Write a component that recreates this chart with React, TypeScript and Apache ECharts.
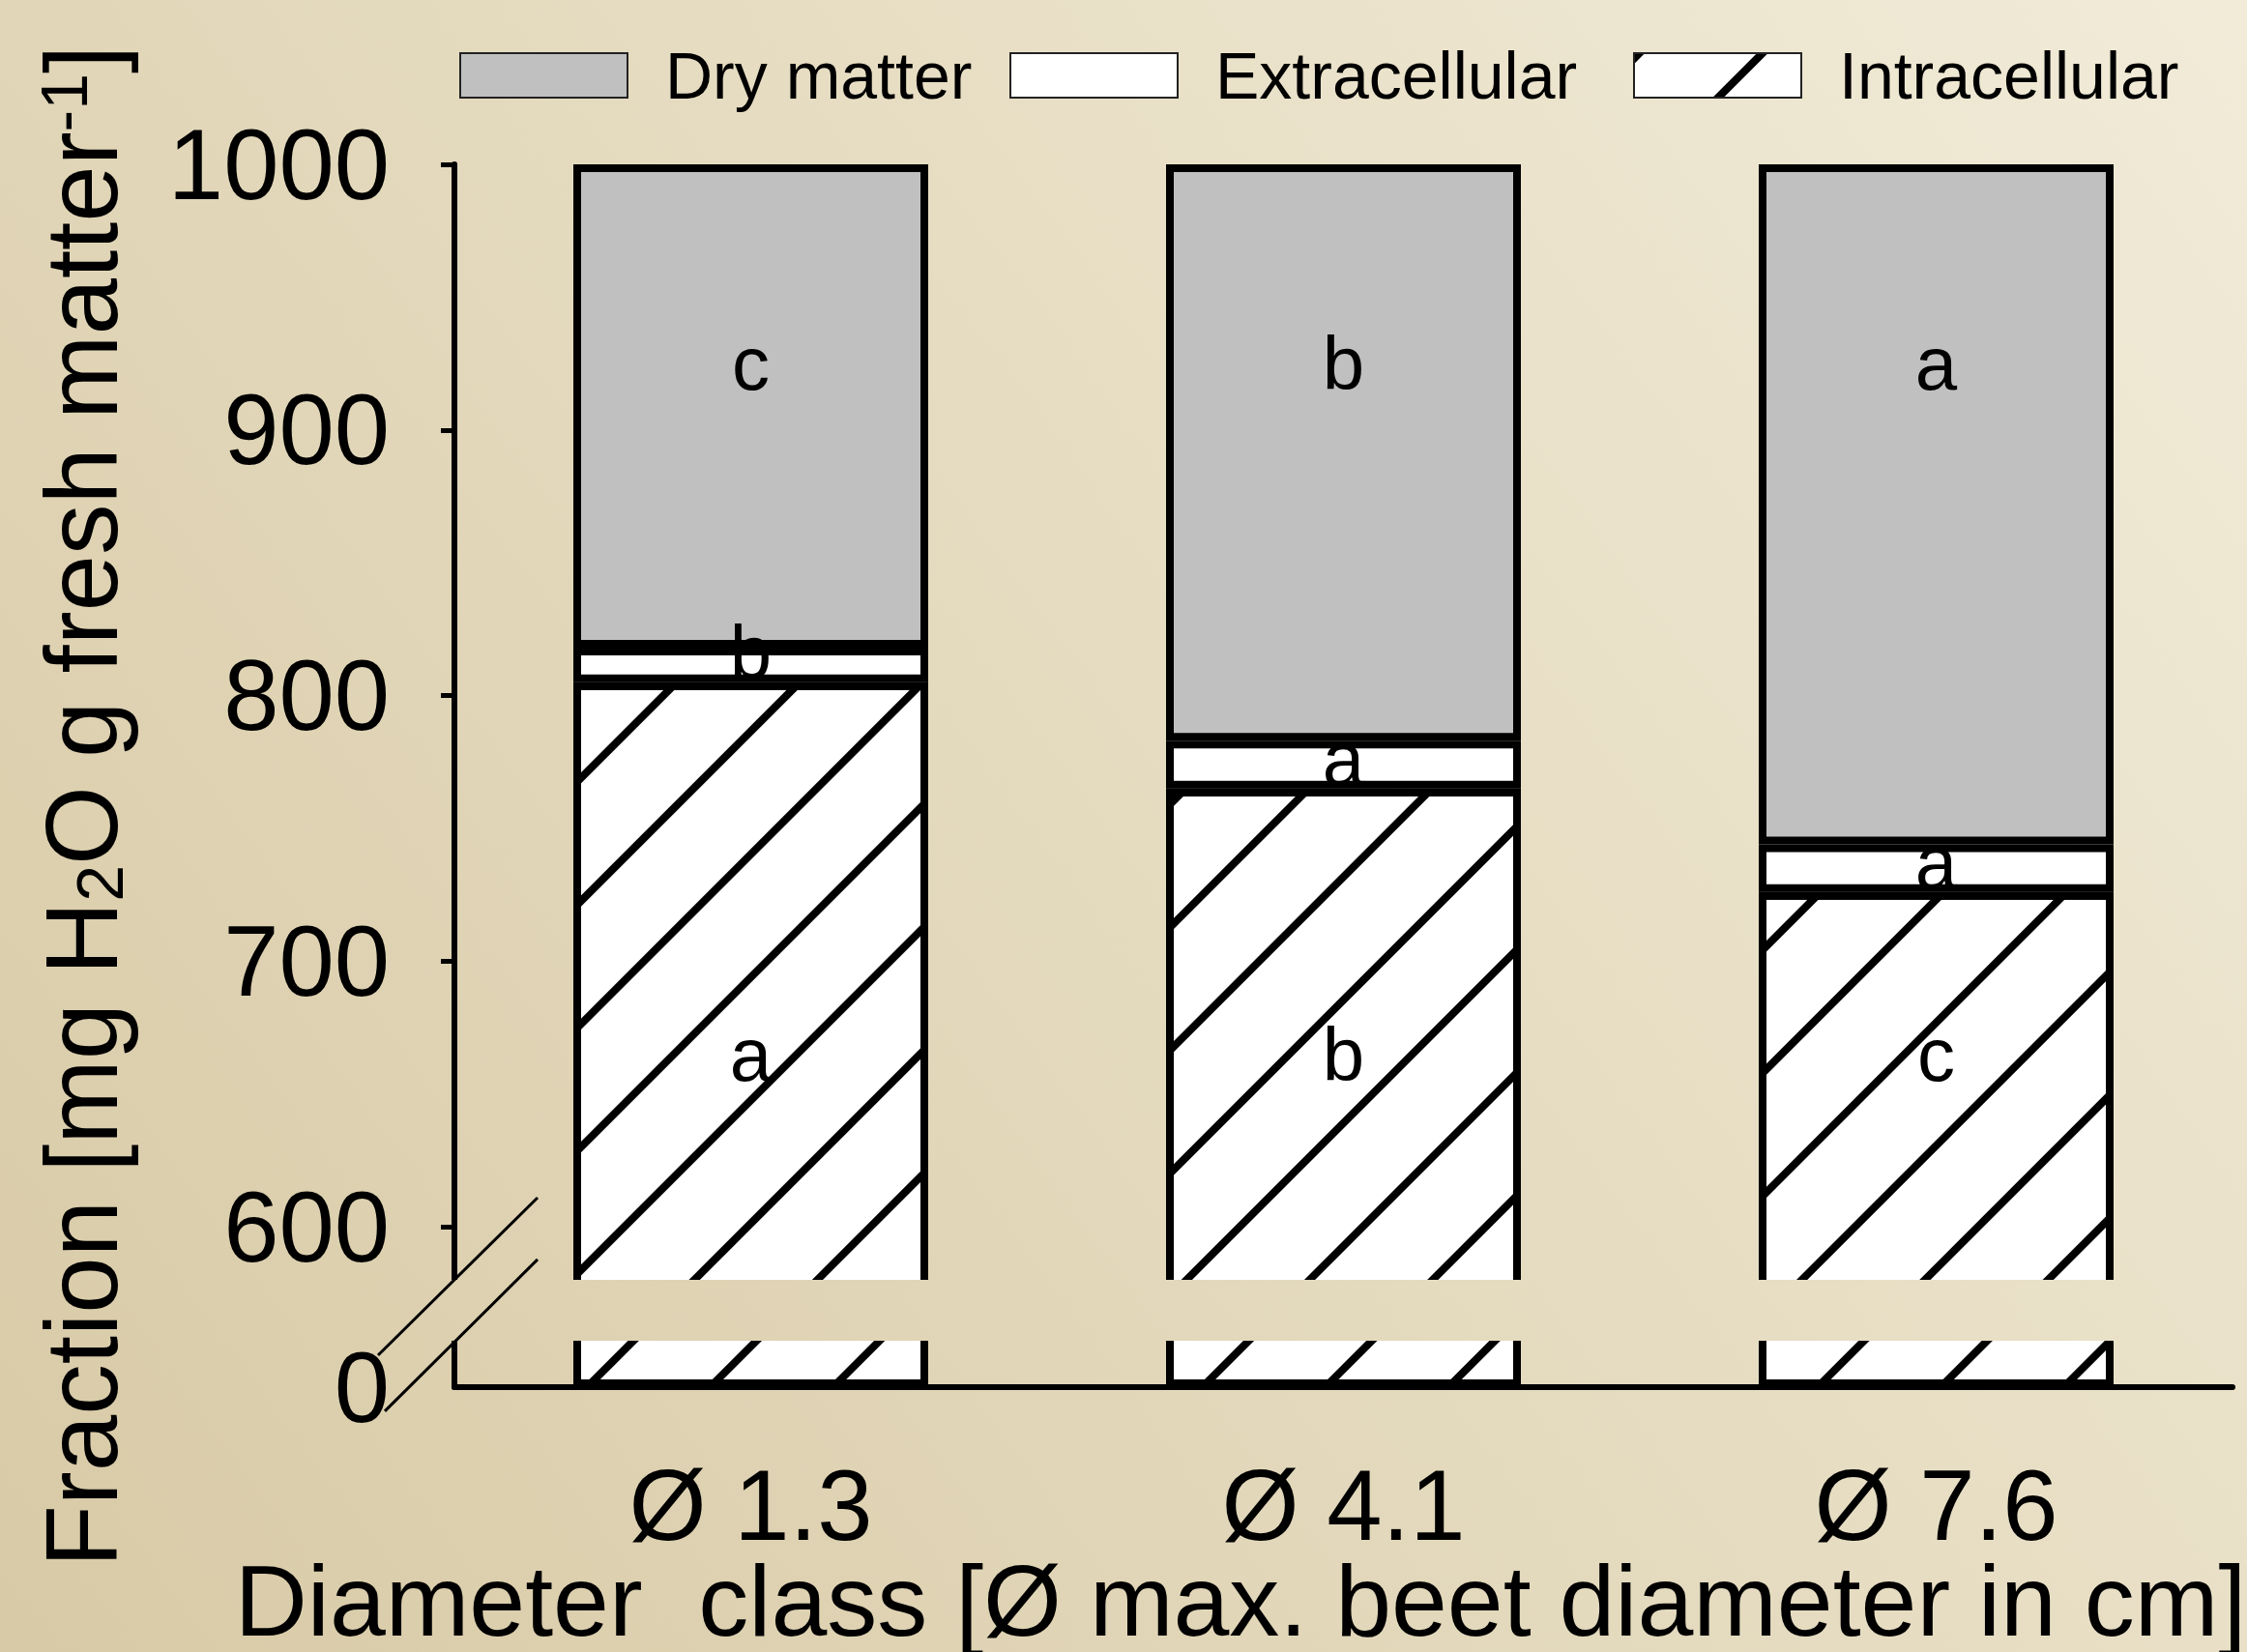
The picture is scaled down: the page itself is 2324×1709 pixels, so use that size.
import React, { useEffect, useRef } from 'react';
import * as echarts from 'echarts';

const CATEGORIES = ['Ø 1.3', 'Ø 4.1', 'Ø 7.6'];
const INTRACELLULAR = [805, 765, 726];
const EXTRACELLULAR = [13, 18, 18];
const DRY_MATTER = [182, 217, 256];
const INTRA_LETTERS = ['a', 'b', 'c'];
const EXTRA_LETTERS = ['b', 'a', 'a'];
const DRY_LETTERS = ['c', 'b', 'a'];
const Y_TICKS = [0, 600, 700, 800, 900, 1000];
const Y_MAX = 1000;

// axis break: real values 0..BREAK_FROM shown at the bottom, then a gap, then BREAK_TO..Y_MAX
const BREAK_FROM = 17.5;
const BREAK_TO = 580;
const GAP_DISPLAY = 22.9;
const OFFSET = BREAK_TO - BREAK_FROM - GAP_DISPLAY;

const toDisplay = (v: number) => (v <= BREAK_FROM ? v : v >= BREAK_TO ? v - OFFSET : BREAK_FROM);

const FONT = '"Liberation Sans", Arial, Helvetica, sans-serif';
const W = 2324;
const H = 1709;

export default function App() {
  const ref = useRef<HTMLDivElement>(null);

  useEffect(() => {
    if (!ref.current) return;
    const chart = echarts.init(ref.current, undefined, { renderer: 'svg', width: W, height: H });

    const bg = () =>
      new echarts.graphic.LinearGradient(
        0,
        H,
        W,
        0,
        [
          { offset: 0, color: '#d8caa6' },
          { offset: 1, color: '#f1ebd8' },
        ],
        true
      );

    const intraDisplay = INTRACELLULAR.map((v) => toDisplay(v));

    const option: any = {
      animation: false,
      textStyle: { fontFamily: FONT, color: '#000' },
      grid: { left: 470, right: 15, top: 170, bottom: 274, containLabel: false },
      legend: [
        { data: ['Dry matter'], left: 470 },
        { data: ['Extracellular'], left: 1039 },
        { data: ['Intracellular'], left: 1684 },
      ].map((l) => ({
        ...l,
        top: 39,
        orient: 'horizontal',
        icon: 'rect',
        itemWidth: 173,
        itemHeight: 46,
        selectedMode: false,
        itemStyle: { borderWidth: 2, borderColor: '#222' },
        textStyle: { fontSize: 68, color: '#000', fontFamily: FONT, padding: [0, 0, 0, 34] },
      })),
      xAxis: {
        type: 'category',
        data: CATEGORIES,
        axisLine: { lineStyle: { color: '#000', width: 6 } },
        axisTick: { alignWithLabel: true, length: 12, lineStyle: { color: '#000', width: 4 } },
        axisLabel: { fontSize: 103, lineHeight: 90, color: '#000', margin: 77, fontFamily: FONT },
        splitLine: { show: false },
      },
      yAxis: {
        type: 'value',
        min: 0,
        max: toDisplay(Y_MAX),
        axisLine: { show: true, lineStyle: { color: '#000', width: 6 } },
        axisTick: {
          show: true,
          length: 14,
          customValues: Y_TICKS.filter((v) => v > 0).map(toDisplay),
          lineStyle: { color: '#000', width: 5 },
        },
        axisLabel: {
          customValues: Y_TICKS.map(toDisplay),
          fontSize: 103,
          color: '#000',
          margin: 67,
          fontFamily: FONT,
          formatter: (val: number) =>
            String(Math.round(val <= BREAK_FROM ? val : val + OFFSET)),
        },
        splitLine: { show: false },
      },
      series: [
        {
          name: 'Intracellular',
          type: 'bar',
          stack: 'total',
          barWidth: 367,
          data: intraDisplay,
          itemStyle: {
            color: '#fff',
            borderColor: '#000',
            borderWidth: 8,
            decal: {
              symbol: 'rect',
              symbolSize: 1,
              color: '#000',
              dashArrayX: [1, 0],
              dashArrayY: [8, 82],
              rotation: -Math.PI / 4,
            },
          },
          label: {
            show: true,
            position: 'insideBottom',
            distance: 305,
            fontSize: 78,
            color: '#000',
            fontFamily: FONT,
            formatter: (p: any) => INTRA_LETTERS[p.dataIndex],
          },
        },
        {
          name: 'Extracellular',
          type: 'bar',
          stack: 'total',
          barWidth: 367,
          data: EXTRACELLULAR,
          itemStyle: { color: '#fff', borderColor: '#000', borderWidth: 8 },
          label: {
            show: true,
            position: 'insideBottom',
            distance: 0,
            offset: [0, 8],
            fontSize: 78,
            color: '#000',
            fontFamily: FONT,
            formatter: (p: any) => EXTRA_LETTERS[p.dataIndex],
          },
        },
        {
          name: 'Dry matter',
          type: 'bar',
          stack: 'total',
          barWidth: 367,
          data: DRY_MATTER,
          itemStyle: { color: '#c0c0c0', borderColor: '#000', borderWidth: 8 },
          label: {
            show: true,
            position: 'insideTop',
            distance: 167,
            fontSize: 78,
            color: '#000',
            fontFamily: FONT,
            formatter: (p: any) => DRY_LETTERS[p.dataIndex],
          },
        },
      ],
    };

    chart.setOption(option);

    const yHigh = chart.convertToPixel({ yAxisIndex: 0 }, BREAK_FROM + GAP_DISPLAY) as number;
    const yLow = chart.convertToPixel({ yAxisIndex: 0 }, BREAK_FROM) as number;
    const gridLeft = 470;

    chart.setOption({
      graphic: [
        {
          type: 'rect',
          silent: true,
          z: -10,
          shape: { x: 0, y: 0, width: W, height: H },
          style: { fill: bg() },
        },
        {
          type: 'rect',
          silent: true,
          z: 50,
          shape: { x: gridLeft - 30, y: yHigh, width: W - gridLeft + 30, height: yLow - yHigh },
          style: { fill: bg() },
        },
        {
          type: 'line',
          silent: true,
          z: 51,
          shape: { x1: gridLeft - 79, y1: yHigh + 78, x2: gridLeft + 86, y2: yHigh - 85 },
          style: { stroke: '#000', lineWidth: 3 },
        },
        {
          type: 'line',
          silent: true,
          z: 51,
          shape: { x1: gridLeft - 72, y1: yLow + 73, x2: gridLeft + 86, y2: yLow - 84 },
          style: { stroke: '#000', lineWidth: 3 },
        },
        {
          type: 'text',
          silent: true,
          z: 51,
          x: 1283,
          y: 1656,
          style: {
            text: 'Diameter  class [Ø max. beet diameter in cm]',
            fontSize: 104,
            lineHeight: 90,
            fontFamily: FONT,
            fill: '#000',
            align: 'center',
            verticalAlign: 'middle',
          },
        },
        {
          type: 'text',
          silent: true,
          z: 51,
          x: 84,
          y: 834,
          rotation: Math.PI / 2,
          style: {
            text: '{a|Fraction [mg H}{sub|2}{a|O g fresh matter}{sup|-1}{a|]}',
            fontSize: 105,
            fontFamily: FONT,
            fill: '#000',
            align: 'center',
            verticalAlign: 'middle',
            rich: {
              a: { fontSize: 105, lineHeight: 105, fontFamily: FONT, fill: '#000' },
              sub: {
                fontSize: 68,
                lineHeight: 68,
                fontFamily: FONT,
                fill: '#000',
                verticalAlign: 'bottom',
                padding: [82, 0, 0, 0],
              },
              sup: { fontSize: 68, lineHeight: 68, fontFamily: FONT, fill: '#000', verticalAlign: 'top' },
            },
          },
        },
      ],
    });

    return () => {
      chart.dispose();
    };
  }, []);

  return (
    <div
      ref={ref}
      style={{ position: 'absolute', left: 0, top: 0, width: W, height: H }}
    />
  );
}
